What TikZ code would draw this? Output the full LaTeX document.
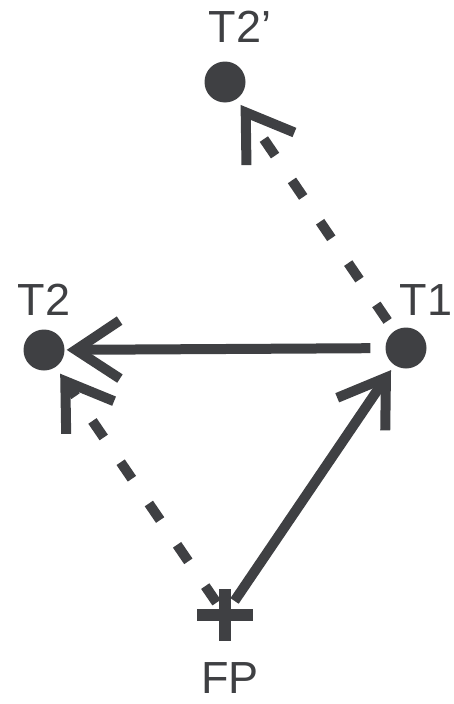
\documentclass[tikz,border=0pt]{standalone}
\usepackage{fontspec}
\setmainfont{Liberation Sans}
\usetikzlibrary{arrows.meta}
\definecolor{dot-gray}{HTML}{3F4043}

\begin{document}
\begin{tikzpicture}[x=1pt, y=-1pt,
        every node/.style={font=\fontsize{45}{50}\selectfont, text=dot-gray, inner sep=0pt},
        target/.style={circle, fill=dot-gray, minimum size=41pt, inner sep=0pt},
        move/.style={line width=10pt, dot-gray, -{Straight Barb[length=44pt, width=58pt]}},
        saccade/.style={move, dash pattern=on 20pt off 30pt}]
      \useasboundingbox (0,0) rectangle (453,704);
      \node[target] (T2p) at (225,82) {};
      \node[target] (T2) at (44,350) {};
      \node[target] (T1) at (406,348) {};
      \coordinate (FP) at (225,615);
      \node (T2p label) at (240,27) {T2’};
      \node (T2 label) at (44,300) {T2};
      \node (T1 label) at (426,300) {T1};
      \node (FP label) at (230,678) {FP};
      \draw[line width=12pt, dot-gray] ([xshift=-28pt]FP) -- ([xshift=28pt]FP);
      \draw[line width=12pt, dot-gray] ([yshift=26pt]FP) -- ([yshift=-26pt]FP);
      \draw[move, shorten <=15pt, shorten >=2pt] (T1) -- (T2);
      \draw[move, shorten <=17pt, shorten >=6pt] (FP) -- (T1);
      \draw[saccade, shorten <=15pt, shorten >=8pt] (FP) -- (T2);
      \draw[saccade, shorten <=12pt, shorten >=7pt] (T1) -- (T2p);
    \end{tikzpicture}
\end{document}
